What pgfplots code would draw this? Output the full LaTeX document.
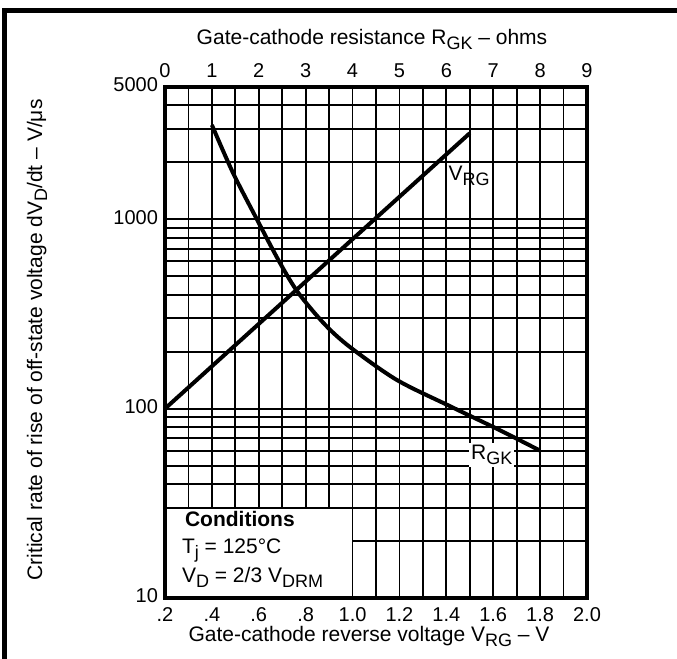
\documentclass[border=0pt]{standalone}
\usepackage{fontspec}
\setmainfont{Liberation Sans}
\usepackage{pgfplots}
\pgfplotsset{compat=1.18}
\newcommand\sub[1]{\raisebox{-0.45ex}{\fontsize{9}{9}\selectfont #1}}

\begin{document}
\begin{tikzpicture}
\useasboundingbox (0,0) rectangle (338.5pt,329.5pt);
\pgfplotsset{
  every axis/.append style={
    at={(82.5pt,30.5pt)}, anchor=south west, scale only axis,
    width=211pt, height=255.5pt,
    ymode=log, ymin=10, ymax=5000,
    major tick length=0pt, minor tick length=0pt,
    tick label style={font=\fontsize{10}{12}\selectfont},
    typeset ticklabels with strut,
    /pgf/number format/assume math mode=true,
    axis line style={line width=2pt},
  }
}
% bottom axis: gate-cathode reverse voltage
\begin{axis}[
  xmin=0.2, xmax=2.0,
  xtick={0.2,0.4,0.6,0.8,1.0,1.2,1.4,1.6,1.8,2.0},
  xticklabels={.2,.4,.6,.8,1.0,1.2,1.4,1.6,1.8,2.0},
  minor xtick={0.3,0.5,0.7,0.9,1.1,1.3,1.5,1.7,1.9},
  ytick={10,100,1000}, yticklabels={10,100,1000},
  extra y ticks={5000}, extra y tick labels={5000},
  extra y tick style={grid=none},
  minor ytick={20,30,40,50,60,70,80,90,200,300,400,500,600,700,800,900,2000,3000,4000},
  grid=both,
  major grid style={black, line width=0.85pt},
  minor grid style={black, line width=0.85pt},
]
\addplot[black, line width=2pt] coordinates {(0.2,100) (1.5,2850)};
\node[anchor=west, font=\fontsize{10.5}{12}\selectfont] at (axis cs:1.38,1700) {V\sub{RG}};
% conditions box
\fill[white] ([xshift=1.2pt,yshift=1.2pt]axis cs:0.2,10) rectangle (axis cs:1.0,30);
\draw[black, line width=0.85pt] (axis cs:0.2,30) -| (axis cs:1.0,10);
\end{axis}
% top axis: gate-cathode resistance
\begin{axis}[
  xmin=0, xmax=9,
  axis x line*=top, axis y line=none,
  xtick={0,1,2,3,4,5,6,7,8,9},
  xticklabel style={yshift=-2.5pt},
]
\addplot[black, line width=2pt, smooth, tension=0.5] coordinates {
  (1,3150) (1.45,1760) (1.96,1000) (2.45,590) (2.84,410) (3.4,280)
  (3.94,212) (4.94,142) (6.08,103) (7.14,77) (8,60)};
\node[anchor=west, fill=white, inner sep=1pt, font=\fontsize{10.5}{12}\selectfont] at (axis cs:6.48,57) {R\sub{GK}};
\end{axis}

\node[anchor=base, font=\fontsize{10.5}{12}\selectfont] at (186pt,307pt) {Gate-cathode resistance R\sub{GK} – ohms};
\node[anchor=base, font=\fontsize{10.5}{12}\selectfont] at (184.5pt,8.5pt) {Gate-cathode reverse voltage V\sub{RG} – V};
\node[rotate=90, font=\fontsize{10.5}{12}\selectfont] at (18.5pt,159.5pt) {Critical rate of rise of off-state voltage dV\sub{D}/dt – V/μs};

\node[anchor=base west, font=\fontsize{10.5}{12}\selectfont\bfseries] at (89pt,66pt) {Conditions};
\node[anchor=base west, font=\fontsize{10.5}{12}\selectfont] at (87.5pt,52.5pt) {T\sub{j} = 125°C};
\node[anchor=base west, font=\fontsize{10.5}{12}\selectfont] at (87.5pt,38pt) {V\sub{D} = 2/3 V\sub{DRM}};

% outer frame
\draw[black, line width=2.5pt] (2.25pt,-5pt) -- (2.25pt,324pt) -- (345pt,324pt);
\end{tikzpicture}
\end{document}
